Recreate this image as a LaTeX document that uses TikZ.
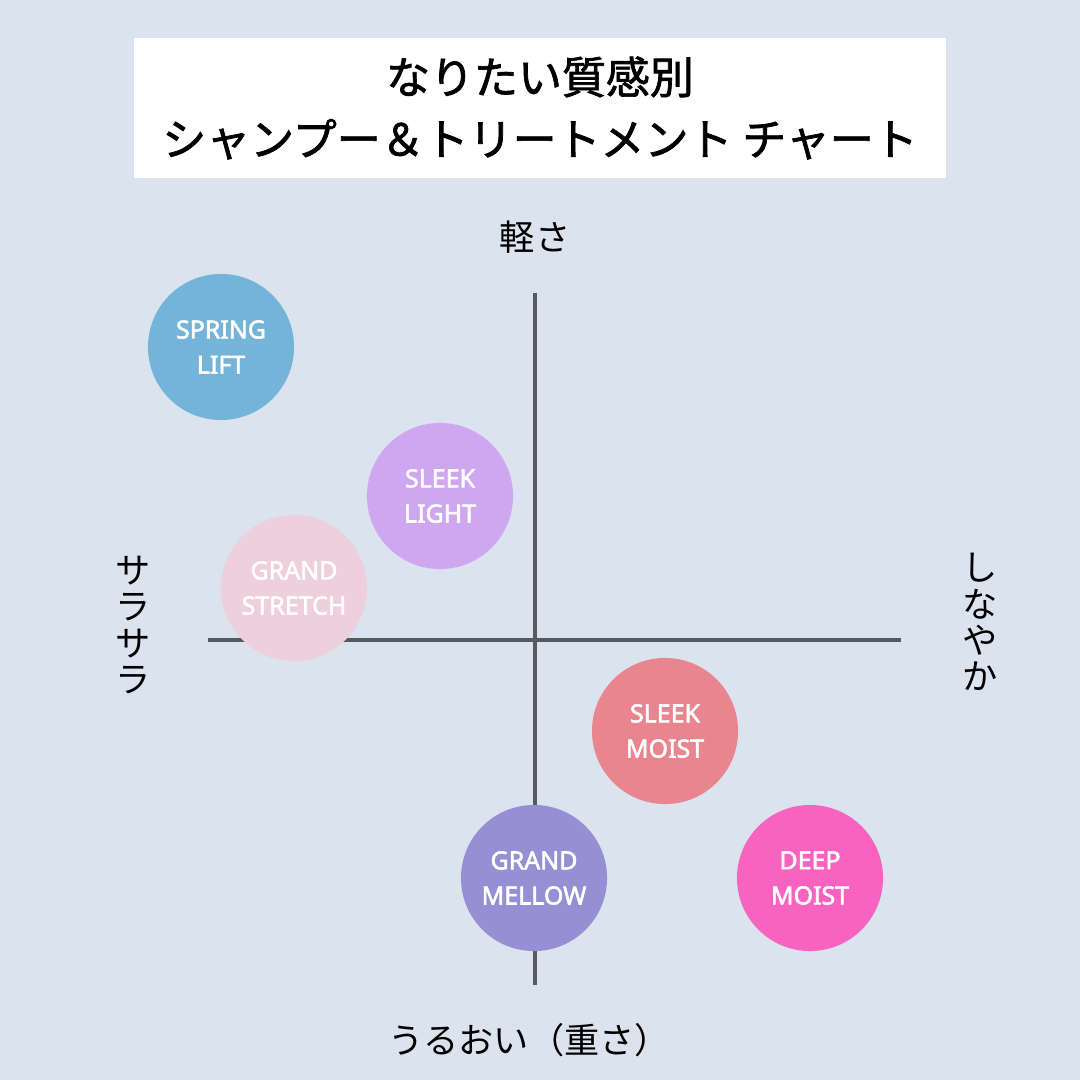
\documentclass[tikz,border=0pt]{standalone}
\usepackage{fontspec}
\setmainfont{Noto Sans}
\newfontfamily\jpfont{Noto Sans CJK JP}
\newfontfamily\jptitlefont{Noto Sans CJK JP}[FakeBold=1.6]
\newfontfamily\bubblefont{Noto Sans}[FakeBold=2.2]
\usepackage{tikz}
\usetikzlibrary{positioning}
\definecolor{bgpanel}{HTML}{DAE3EE}
\definecolor{axisgrey}{HTML}{555A60}
\definecolor{springblue}{HTML}{74B4D8}
\definecolor{sleeklilac}{HTML}{CFA7F0}
\definecolor{stretchpink}{HTML}{EECFDC}
\definecolor{moistrose}{HTML}{E8858E}
\definecolor{mellowviolet}{HTML}{978FD3}
\definecolor{deepmagenta}{HTML}{F863C0}
\tikzset{
  titlebox/.style  = {rectangle, fill=white, minimum width=8.12cm, minimum height=1.40cm,
                      align=center, inner sep=0pt,
                      font=\jptitlefont\fontsize{12.5}{17.6}\selectfont},
  bubble/.style    = {circle, minimum size=1.46cm, inner sep=0pt, align=center,
                      text=white, font=\bubblefont\fontsize{7.1}{10}\selectfont},
  axisline/.style  = {line width=1.1pt, draw=axisgrey},
  axislabel/.style = {inner sep=0pt, align=center,
                      font=\jpfont\fontsize{10}{10.3}\selectfont},
}

\begin{document}
\begin{tikzpicture}[x=0.01cm, y=-0.01cm]

  % panel
  \fill[bgpanel] (0,0) rectangle (1080,1080);
  \node[titlebox] (title) at (540,108)
       {なりたい質感別\\シャンプー＆トリートメント チャート};

  % axes
  \coordinate (vtop) at (535,293);
  \coordinate (vbot) at (535,985);
  \coordinate (hleft) at (208,640);
  \coordinate (hright) at (901,640);
  \draw[axisline] (vtop) -- (vbot);
  \draw[axisline] (hleft) -- (hright);

  \node[axislabel] (light) at (535,237) {軽さ};
  \node[axislabel] (heavy) at (529,1040) {うるおい（重さ）};
  \node[axislabel] (smooth) at (133,625) {サ\\ラ\\サ\\ラ};
  \node[axislabel] (supple) at (980,622) {し\\な\\や\\か};

  % products
  \node[bubble, fill=springblue]   (spring)  at (221,347) {SPRING\\LIFT};
  \node[bubble, fill=sleeklilac]   (slight)  at (440,496) {SLEEK\\LIGHT};
  \node[bubble, fill=stretchpink]  (gstretch) at (294,588) {GRAND\\STRETCH};
  \node[bubble, fill=moistrose]    (smoist)  at (665,731) {SLEEK\\MOIST};
  \node[bubble, fill=mellowviolet] (gmellow) at (534,878) {GRAND\\MELLOW};
  \node[bubble, fill=deepmagenta]  (dmoist)  at (810,878) {DEEP\\MOIST};

\end{tikzpicture}
\end{document}
